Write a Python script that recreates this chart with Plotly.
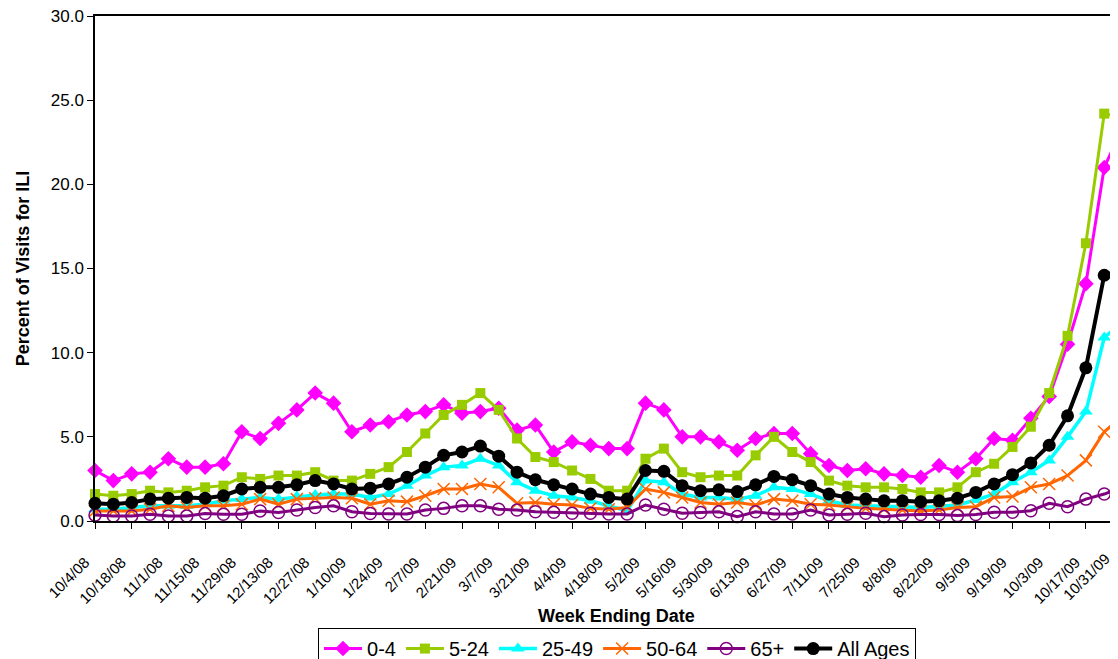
import plotly.graph_objects as go

weeks = ["10/4/08", "10/11/08", "10/18/08", "10/25/08", "11/1/08", "11/8/08", "11/15/08", "11/22/08",
         "11/29/08", "12/6/08", "12/13/08", "12/20/08", "12/27/08", "1/3/09", "1/10/09", "1/17/09",
         "1/24/09", "1/31/09", "2/7/09", "2/14/09", "2/21/09", "2/28/09", "3/7/09", "3/14/09",
         "3/21/09", "3/28/09", "4/4/09", "4/11/09", "4/18/09", "4/25/09", "5/2/09", "5/9/09",
         "5/16/09", "5/23/09", "5/30/09", "6/6/09", "6/13/09", "6/20/09", "6/27/09", "7/4/09",
         "7/11/09", "7/18/09", "7/25/09", "8/1/09", "8/8/09", "8/15/09", "8/22/09", "8/29/09",
         "9/5/09", "9/12/09", "9/19/09", "9/26/09", "10/3/09", "10/10/09", "10/17/09", "10/24/09",
         "10/31/09"]

age_0_4 = [3.0, 2.4, 2.8, 2.9, 3.7, 3.2, 3.2, 3.4, 5.3, 4.9, 5.8, 6.6, 7.6, 7.0, 5.3, 5.7,
           5.9, 6.3, 6.5, 6.9, 6.4, 6.5, 6.7, 5.4, 5.7, 4.1, 4.7, 4.5, 4.3, 4.3, 7.0, 6.6,
           5.0, 5.0, 4.7, 4.2, 4.9, 5.2, 5.2, 4.0, 3.3, 3.0, 3.1, 2.8, 2.7, 2.6, 3.3, 2.9,
           3.7, 4.9, 4.8, 6.1, 7.4, 10.5, 14.1, 21.0, 23.4]
age_5_24 = [1.6, 1.5, 1.6, 1.8, 1.7, 1.8, 2.0, 2.1, 2.6, 2.5, 2.7, 2.7, 2.9, 2.4, 2.4, 2.8,
            3.2, 4.1, 5.2, 6.3, 6.9, 7.6, 6.6, 4.9, 3.8, 3.5, 3.0, 2.5, 1.8, 1.8, 3.7, 4.3,
            2.9, 2.6, 2.7, 2.7, 3.9, 5.0, 4.1, 3.5, 2.4, 2.1, 2.0, 2.0, 1.9, 1.7, 1.7, 2.0,
            2.9, 3.4, 4.4, 5.6, 7.6, 11.0, 16.5, 24.2, 24.0]
age_25_49 = [0.7, 0.7, 0.8, 0.9, 0.9, 0.9, 1.0, 1.2, 1.3, 1.4, 1.3, 1.45, 1.55, 1.6, 1.6, 1.4,
             1.6, 2.1, 2.7, 3.2, 3.3, 3.7, 3.3, 2.3, 1.8, 1.5, 1.4, 1.2, 0.9, 0.6, 2.4, 2.3,
             1.6, 1.4, 1.4, 1.3, 1.5, 2.0, 1.9, 1.6, 1.2, 0.95, 0.9, 0.9, 0.85, 0.8, 0.85, 0.95,
             1.25, 1.6, 2.3, 2.9, 3.6, 5.0, 6.5, 10.9, 11.8]
age_50_64 = [0.6, 0.6, 0.6, 0.7, 0.9, 0.8, 0.9, 0.9, 1.0, 1.3, 1.0, 1.3, 1.35, 1.4, 1.35, 1.0,
             1.2, 1.15, 1.5, 1.9, 1.9, 2.2, 2.0, 1.05, 1.1, 1.0, 0.95, 0.75, 0.7, 0.8, 1.9, 1.7,
             1.4, 1.1, 1.0, 1.1, 0.95, 1.3, 1.2, 1.0, 0.95, 0.85, 0.75, 0.7, 0.65, 0.6, 0.65, 0.8,
             0.85, 1.4, 1.45, 2.0, 2.2, 2.7, 3.6, 5.3, 6.2]
age_65_plus = [0.35, 0.3, 0.3, 0.4, 0.3, 0.3, 0.45, 0.4, 0.4, 0.6, 0.5, 0.65, 0.8, 0.9, 0.55, 0.45,
               0.42, 0.42, 0.65, 0.75, 0.9, 0.9, 0.7, 0.65, 0.55, 0.52, 0.46, 0.46, 0.42, 0.42, 0.95, 0.7,
               0.46, 0.5, 0.55, 0.26, 0.55, 0.42, 0.42, 0.65, 0.36, 0.4, 0.46, 0.26, 0.36, 0.39, 0.39, 0.32,
               0.39, 0.52, 0.52, 0.61, 1.05, 0.85, 1.3, 1.6, 2.0]
all_ages = [1.05, 1.0, 1.1, 1.3, 1.35, 1.4, 1.35, 1.5, 1.9, 2.0, 2.0, 2.15, 2.4, 2.2, 1.9, 1.95,
            2.2, 2.6, 3.2, 3.9, 4.1, 4.45, 3.85, 2.9, 2.45, 2.15, 1.9, 1.6, 1.4, 1.3, 3.0, 2.95,
            2.1, 1.8, 1.85, 1.75, 2.15, 2.65, 2.45, 2.1, 1.6, 1.4, 1.3, 1.2, 1.2, 1.15, 1.2, 1.35,
            1.7, 2.2, 2.75, 3.45, 4.5, 6.25, 9.1, 14.6, 14.9]

y_ticks = [0, 5, 10, 15, 20, 25, 30]

FONT = "Arial, Liberation Sans, sans-serif"
X_MAX = 55.75  # visible part of the category axis (chart is cut at the right edge)

series = [
    ("0-4", age_0_4, "#FF00FF", dict(symbol="diamond", size=12, color="#FF00FF"), 3),
    ("5-24", age_5_24, "#99CC00", dict(symbol="square", size=10, color="#99CC00"), 3),
    ("25-49", age_25_49, "#00FFFF", dict(symbol="triangle-up", size=12, color="#00FFFF"), 3.5),
    ("50-64", age_50_64, "#FF6600", dict(symbol="x-thin-open", size=12, color="#FF6600",
                                         line=dict(color="#FF6600", width=1.5)), 3),
    ("65+", age_65_plus, "#800080", dict(symbol="circle-open", size=12, color="#800080",
                                         line=dict(color="#800080", width=1.5)), 3),
    ("All Ages", all_ages, "#000000", dict(symbol="circle", size=13, color="#000000"), 4),
]

fig = go.Figure()
for name, vals, col, mk, lw in series:
    fig.add_trace(go.Scatter(
        x=weeks, y=vals, name=name, mode="lines+markers",
        line=dict(color=col, width=lw), marker=mk, cliponaxis=False,
    ))

# last tick label lies just past the visible range; draw it as text
fig.add_annotation(
    x=(len(weeks) - 1) / X_MAX, xref="paper", y=0, yref="paper",
    text=weeks[-1], textangle=-45, showarrow=False,
    xanchor="right", yanchor="top", xshift=-7, yshift=-26,
    font=dict(size=15, family=FONT, color="black"),
)
# x-axis title
fig.add_annotation(
    x=0.51, xref="paper", y=-0.188, yref="paper",
    text="<b>Week Ending Date</b>", showarrow=False,
    xanchor="center", yanchor="middle",
    font=dict(size=18, family=FONT, color="black"),
)

fig.update_layout(
    width=1110, height=651,
    margin=dict(l=87, r=0, t=8, b=138, autoexpand=False),
    paper_bgcolor="white", plot_bgcolor="white",
    font=dict(family=FONT, size=18, color="black"),
    showlegend=True,
    legend=dict(
        orientation="h", x=0.218, xanchor="left", y=-0.212, yanchor="top",
        bordercolor="black", borderwidth=1, font=dict(size=20, family=FONT),
        traceorder="normal", tracegroupgap=0, itemwidth=38,
    ),
)

fig.update_xaxes(
    type="category", range=[0, X_MAX], automargin=False,
    tickmode="array", tickvals=weeks[::2], ticktext=weeks[::2],
    tickangle=-45, tickfont=dict(size=15, family=FONT),
    ticklabelstandoff=19, ticklabelshift=-10,
    showline=True, linecolor="black", linewidth=1.5, mirror=True,
    ticks="outside", ticklen=6, tickcolor="black",
    showgrid=False, zeroline=False,
)
fig.update_yaxes(
    range=[0, 30], tickmode="array", tickvals=y_ticks, automargin=False,
    tickformat=".1f", tickfont=dict(size=17, family=FONT), ticklabeloverflow="allow",
    showline=True, linecolor="black", linewidth=1.5,
    ticks="outside", ticklen=6, tickcolor="black",
    showgrid=False, zeroline=False,
    title=dict(text="<b>Percent of Visits for ILI</b>", font=dict(size=18, family=FONT), standoff=16),
)

fig.write_html("out.html")
